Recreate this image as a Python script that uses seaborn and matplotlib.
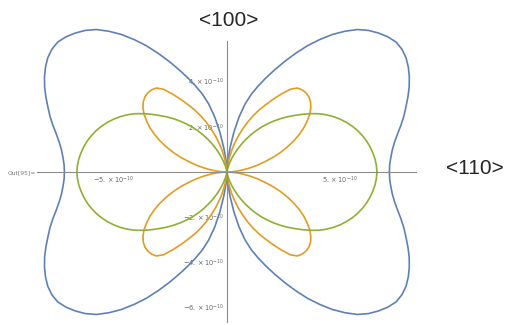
import matplotlib
matplotlib.use('Agg')
import matplotlib.pyplot as plt
import seaborn as sns
import numpy as np

#------------------------------------------------------------------------------
### Data (radius in units of 1e-10, first quadrant,
### every 2.5 degrees measured from the <110> axis; the curves are mirrored
### into the other quadrants)

ANGLES = [0, 2.5, 5, 7.5, 10, 12.5, 15, 17.5, 20, 22.5, 25, 27.5, 30, 32.5,
          35, 37.5, 40, 42.5, 45, 47.5, 50, 52.5, 55, 57.5, 60, 62.5, 65,
          67.5, 70, 72.5, 75, 77.5, 80, 82.5, 85, 87.5, 90]
R_BLUE = [7.19, 7.21, 7.28, 7.38, 7.53, 7.73, 7.97, 8.21, 8.43, 8.67, 8.90,
          9.10, 9.27, 9.40, 9.46, 9.44, 9.30, 9.10, 8.86, 8.55, 8.13, 7.67,
          7.15, 6.62, 6.05, 5.50, 4.98, 4.50, 4.05, 3.62, 3.12, 2.50, 1.80,
          1.10, 0.60, 0.30, 0.20]
R_ORANGE = [0.00, 0.22, 0.46, 0.72, 1.02, 1.37, 1.72, 2.12, 2.52, 2.90,
            3.27, 3.62, 3.94, 4.22, 4.48, 4.68, 4.83, 4.92, 4.95, 4.93,
            4.85, 4.62, 4.22, 3.82, 3.44, 3.10, 2.74, 2.38, 2.00, 1.65,
            1.30, 0.98, 0.66, 0.40, 0.20, 0.06, 0.00]
R_GREEN = [6.64, 6.62, 6.58, 6.51, 6.43, 6.33, 6.21, 6.07, 5.91, 5.73,
           5.53, 5.31, 5.07, 4.80, 4.50, 4.19, 3.89, 3.61, 3.33, 3.05,
           2.77, 2.50, 2.21, 1.93, 1.65, 1.38, 1.12, 0.88, 0.66, 0.47,
           0.31, 0.19, 0.10, 0.04, 0.01, 0.00, 0.00]

X_MAJOR = [-5, 5]
X_LABELS = [r'$-5.\times10^{-10}$', r'$5.\times10^{-10}$']
X_MINOR = [-8, -7, -6, -4, -3, -2, -1, 1, 2, 3, 4, 6, 7, 8]
Y_MAJOR = [-6, -4, -2, 2, 4]
Y_LABELS = [r'$-6.\times10^{-10}$', r'$-4.\times10^{-10}$',
            r'$-2.\times10^{-10}$', r'$2.\times10^{-10}$',
            r'$4.\times10^{-10}$']
Y_MINOR = [-6.5, -5.5, -5, -4.5, -3.5, -3, -2.5, -1.5, -1, -0.5,
           0.5, 1, 1.5, 2.5, 3, 3.5, 4.5, 5, 5.5]

COLORS = {'blue': '#5E81B5', 'orange': '#E19C24', 'green': '#8FB032'}
AXIS_COLOR = '#8c8c8c'
LABEL_COLOR = '#666666'

#------------------------------------------------------------------------------
### Functions

# Mirror the first quadrant radii into a closed curve in x/y
def full_curve(r_list):
	ang = np.array(ANGLES, dtype=float)
	r = np.array(r_list, dtype=float)
	theta = np.concatenate([ang, 180 - ang[::-1], 180 + ang, 360 - ang[::-1]])
	rr = np.concatenate([r, r[::-1], r, r[::-1]])
	rad = np.deg2rad(theta)
	return rr * np.cos(rad), rr * np.sin(rad)


#------------------------------------------------------------------------------
### Make figure

sns.set_style('white')

fig = plt.figure(figsize=(5.06, 3.25), dpi=100)
ax = fig.add_axes([0, 0, 1, 1])

for name, r_list in [('blue', R_BLUE), ('orange', R_ORANGE),
		('green', R_GREEN)]:
	x, y = full_curve(r_list)
	sns.lineplot(x=x, y=y, sort=False, estimator=None, color=COLORS[name],
		lw=1.2, ax=ax)

ax.set_xlim(-10.04, 12.35)
ax.set_ylim(-6.77, 7.61)
ax.set_xlabel('')
ax.set_ylabel('')

# Axes crossing at the origin, Mathematica style
for side in ['top', 'right']:
	ax.spines[side].set_visible(False)
ax.spines['left'].set_position(('data', 0))
ax.spines['bottom'].set_position(('data', 0))
ax.spines['bottom'].set_bounds(-8.41, 8.38)
ax.spines['left'].set_bounds(-6.62, 5.81)
for side in ['left', 'bottom']:
	ax.spines[side].set_color(AXIS_COLOR)
	ax.spines[side].set_linewidth(0.8)

ax.set_xticks(X_MAJOR, labels=X_LABELS)
ax.set_xticks(X_MINOR, minor=True)
ax.set_yticks(Y_MAJOR, labels=Y_LABELS)
ax.set_yticks(Y_MINOR, minor=True)
ax.tick_params(which='both', direction='in', color=AXIS_COLOR, width=0.6,
	labelcolor=LABEL_COLOR, labelsize=4.8, pad=2)
ax.tick_params(which='major', length=3.5)
ax.tick_params(which='minor', length=2)

fig.text(8 / 506, 1 - 172.7 / 325, 'Out[95]=', fontsize=4.3,
	color='#777777', va='center', ha='left')
fig.text(229 / 506, 1 - 20 / 325, '<100>', fontsize=15,
	family='Liberation Sans', ha='center', va='center')
fig.text(474.5 / 506, 1 - 169 / 325, '<110>', fontsize=15,
	family='Liberation Sans', ha='center', va='center')

plt.savefig('out.png', dpi=100)
plt.close()
